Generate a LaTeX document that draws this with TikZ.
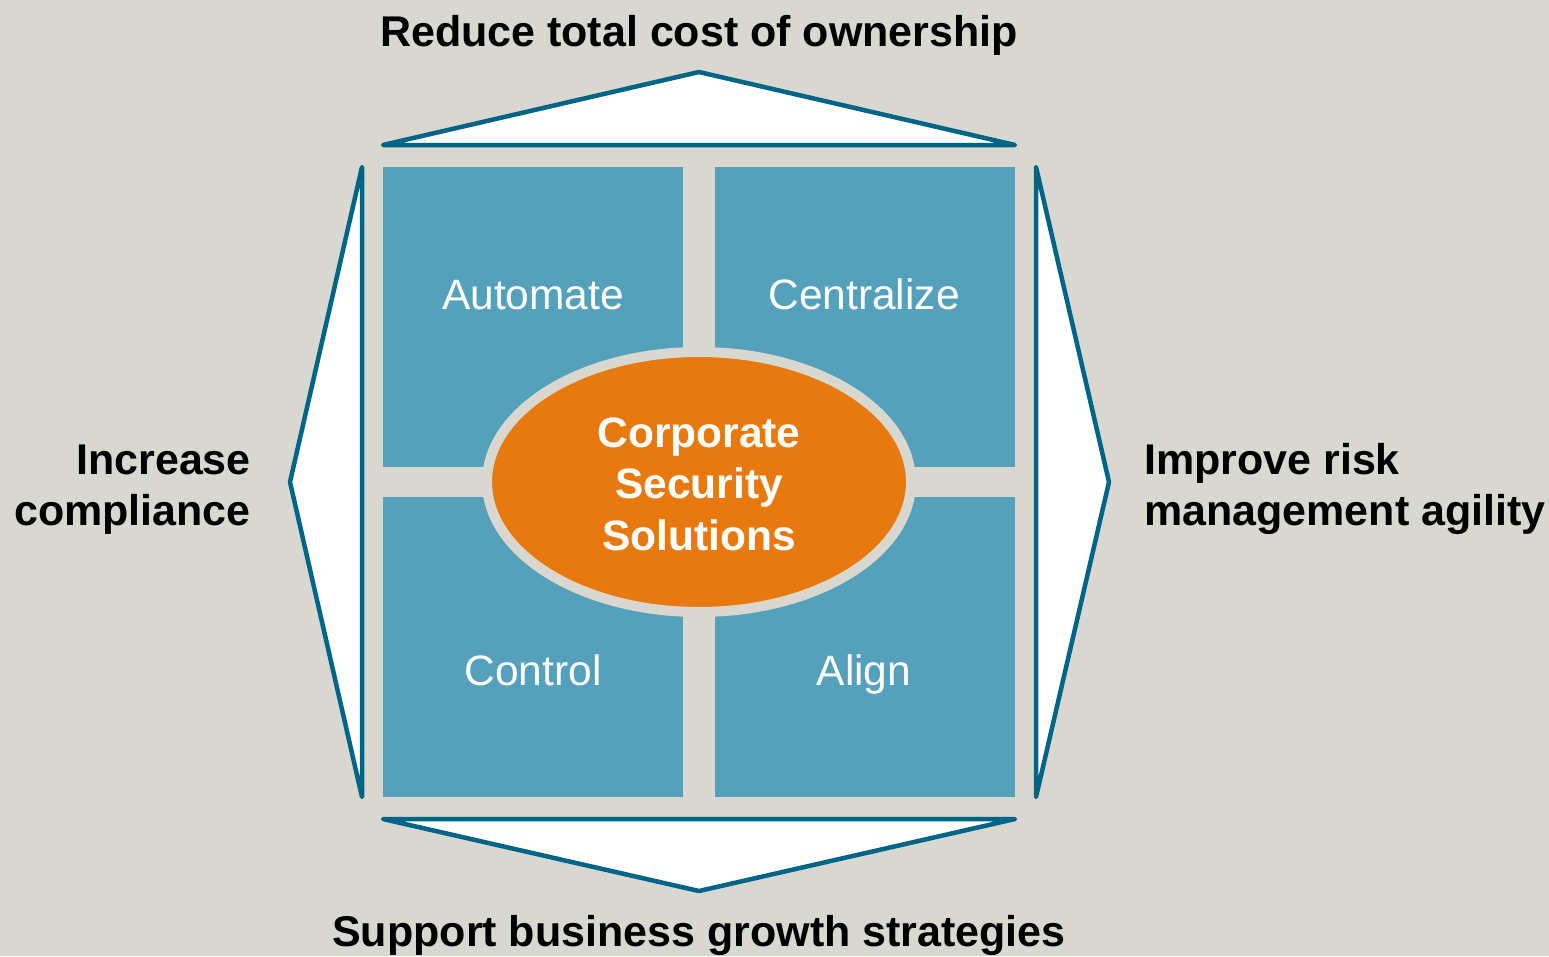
\documentclass[tikz,border=0pt]{standalone}
\usepackage{fontspec}
\setmainfont{Liberation Sans}
\usetikzlibrary{shapes.geometric}
\definecolor{bg}{RGB}{216,216,208}
\definecolor{tile}{RGB}{85,160,186}
\definecolor{edge}{RGB}{0,100,135}
\definecolor{core}{RGB}{232,121,14}
\tikzset{
  tilebox/.style={fill=tile, draw=none},
  arrowpoly/.style={fill=white, draw=edge, line width=4.5pt, line join=round, line cap=round},
  tilelabel/.style={anchor=base, text=white, font=\fontsize{42.5}{51}\selectfont, inner sep=0pt},
  goal/.style={text=black, font=\fontsize{43}{51}\selectfont\bfseries, inner sep=0pt},
}
\begin{document}
\begin{tikzpicture}[x=1pt,y=-1pt]
\fill[bg] (0,0) rectangle (1549,956);
\useasboundingbox (0,0) rectangle (1549,956);
% tiles
\fill[tilebox] (383,167) rectangle (683,467);
\fill[tilebox] (715,167) rectangle (1015,467);
\fill[tilebox] (383,497) rectangle (683,797);
\fill[tilebox] (715,497) rectangle (1015,797);
% arrows
\draw[arrowpoly] (383,145) -- (699,72) -- (1015,145) -- cycle;
\draw[arrowpoly] (383,819) -- (699,891) -- (1015,819) -- cycle;
\draw[arrowpoly] (362,167) -- (290,482) -- (362,797) -- cycle;
\draw[arrowpoly] (1036,167) -- (1109,482) -- (1036,797) -- cycle;
% center ellipse
\node[ellipse, fill=core, draw=bg, line width=10pt, minimum width=424pt, minimum height=260pt, inner sep=0pt] (core) at (699,482) {};
\node[align=center, text=white, font=\fontsize{42.5}{51.5}\selectfont\bfseries, inner sep=0pt, anchor=base] (coretext) at (699,550) {Corporate\\Security\\Solutions};
% tile labels
\node[tilelabel] (automate) at (533,309) {Automate};
\node[tilelabel] (centralize) at (864,309) {Centralize};
\node[tilelabel] (control) at (533,685) {Control};
\node[tilelabel] (align) at (864,685) {Align};
% goals
\node[goal, anchor=base] (top) at (699,46) {Reduce total cost of ownership};
\node[goal, anchor=base] (bottom) at (699,946) {Support business growth strategies};
\node[goal, anchor=base east, align=right] (left) at (251,525) {Increase\\compliance};
\node[goal, anchor=base west, align=left] (right) at (1144,525) {Improve risk\\management agility};
\end{tikzpicture}
\end{document}
